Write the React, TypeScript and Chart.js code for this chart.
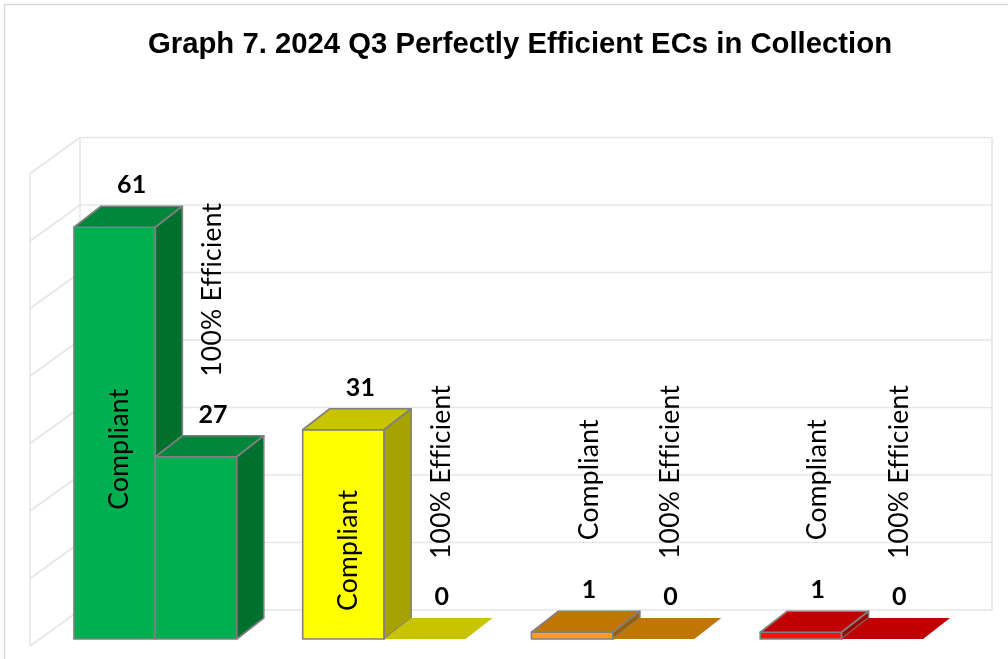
import { useEffect, useRef } from 'react';
import { Chart, registerables } from 'chart.js';

Chart.register(...registerables);

// ---------- data ----------
const chartTitle = 'Graph 7. 2024 Q3 Perfectly Efficient ECs in Collection';
const categories = ['Green', 'Yellow', 'Orange', 'Red'];
const seriesNames = ['Compliant', '100% Efficient'];
const compliantValues = [61, 31, 1, 1];
const efficientValues = [27, 0, 0, 0];
const yTickValues = [0, 10, 20, 30, 40, 50, 60, 70];

// ---------- style ----------
const frontColors = ['#00B050', '#FFFF00', '#FF9F1C', '#FF1010'];
const topColors = ['#00873C', '#C8C400', '#C07600', '#C00000'];
const sideColors = ['#00702F', '#A6A300', '#9A5E00', '#9A0000'];
const BAR_DX = 27;
const BAR_DY = -21;
const BACK_DX = 39;
const BACK_RIGHT_DX = 36;
const BACK_DY = -29;
const FRONT_DX = -11;
const FRONT_DY = 7;
const NAME_GAP = [50, 38];
const NAME_FONT = '26px Lato, "Open Sans", sans-serif';
const VALUE_FONT = 'bold 25px Lato, sans-serif';

function poly(ctx: CanvasRenderingContext2D, pts: number[][], fill: string, stroke: boolean) {
  ctx.beginPath();
  ctx.moveTo(pts[0][0], pts[0][1]);
  for (let i = 1; i < pts.length; i++) ctx.lineTo(pts[i][0], pts[i][1]);
  ctx.closePath();
  ctx.fillStyle = fill;
  ctx.fill();
  if (stroke) {
    ctx.strokeStyle = '#808080';
    ctx.lineWidth = 1.6;
    ctx.lineJoin = 'round';
    ctx.stroke();
  }
}

const threeDPlugin = {
  id: 'threeD',
  beforeDatasetsDraw(chart: any) {
    const ctx: CanvasRenderingContext2D = chart.ctx;
    const { left, right } = chart.chartArea;
    const ys = chart.scales.y;
    ctx.save();
    // outer frame
    ctx.strokeStyle = '#D9D9D9';
    ctx.lineWidth = 1.5;
    ctx.beginPath();
    ctx.moveTo(4.5, chart.height);
    ctx.lineTo(4.5, 4.5);
    ctx.lineTo(chart.width, 4.5);
    ctx.stroke();
    // title
    ctx.fillStyle = '#000';
    ctx.font = 'bold 29.3px "Liberation Sans", Arial, sans-serif';
    ctx.textAlign = 'center';
    ctx.textBaseline = 'alphabetic';
    ctx.fillText(chartTitle, 520, 53);
    // walls & grid
    const bl = left + BACK_DX;
    const br = right + BACK_RIGHT_DX;
    const fl = left + FRONT_DX;
    ctx.strokeStyle = '#E6E6E6';
    ctx.lineWidth = 1.6;
    const yTop = ys.getPixelForValue(yTickValues[yTickValues.length - 1]);
    const yBot = ys.getPixelForValue(yTickValues[0]);
    ctx.beginPath();
    for (const v of yTickValues) {
      const yy = ys.getPixelForValue(v);
      ctx.moveTo(bl, yy + BACK_DY);
      ctx.lineTo(br, yy + BACK_DY);
      ctx.moveTo(fl, yy + FRONT_DY);
      ctx.lineTo(bl, yy + BACK_DY);
    }
    ctx.moveTo(bl, yTop + BACK_DY);
    ctx.lineTo(bl, yBot + BACK_DY);
    ctx.moveTo(br, yTop + BACK_DY);
    ctx.lineTo(br, yBot + BACK_DY);
    ctx.moveTo(fl, yTop + FRONT_DY);
    ctx.lineTo(fl, yBot + FRONT_DY);
    ctx.stroke();
    ctx.restore();
  },
  afterDatasetsDraw(chart: any) {
    const ctx: CanvasRenderingContext2D = chart.ctx;
    ctx.save();
    const nDs = chart.data.datasets.length;
    // boxes
    for (let i = 0; i < categories.length; i++) {
      for (let d = 0; d < nDs; d++) {
        const el = chart.getDatasetMeta(d).data[i];
        const { x, y, base, width } = el.getProps(['x', 'y', 'base', 'width'], true);
        const x0 = x - width / 2;
        const x1 = x + width / 2;
        const value = chart.data.datasets[d].data[i];
        const topFace = [
          [x0, y],
          [x1, y],
          [x1 + BAR_DX, y + BAR_DY],
          [x0 + BAR_DX, y + BAR_DY],
        ];
        if (value <= 0) {
          poly(ctx, topFace, topColors[i], false);
          continue;
        }
        poly(ctx, [[x0, y], [x1, y], [x1, base], [x0, base]], frontColors[i], true);
        poly(ctx, topFace, topColors[i], true);
        poly(
          ctx,
          [
            [x1, y],
            [x1 + BAR_DX, y + BAR_DY],
            [x1 + BAR_DX, base + BAR_DY],
            [x1, base],
          ],
          sideColors[i],
          true
        );
      }
    }
    // labels (no ligatures)
    const anyCtx = ctx as any;
    anyCtx.letterSpacing = '0.2px';
    anyCtx.textRendering = 'optimizeSpeed';
    ctx.font = NAME_FONT;
    const stretch = 121 / ctx.measureText(seriesNames[0]).width;
    for (let i = 0; i < categories.length; i++) {
      for (let d = 0; d < nDs; d++) {
        const el = chart.getDatasetMeta(d).data[i];
        const { x, y, base } = el.getProps(['x', 'y', 'base'], true);
        const value = chart.data.datasets[d].data[i];
        const vx = x + 17;
        const vy = y - 42;
        ctx.fillStyle = '#000';
        ctx.font = VALUE_FONT;
        ctx.textAlign = 'center';
        ctx.textBaseline = 'middle';
        ctx.fillText(String(value), vx, vy);

        const name = chart.data.datasets[d].label;
        ctx.font = NAME_FONT;
        const len = ctx.measureText(name).width * stretch;
        ctx.save();
        if (d === 0 && base - y > len + 40) {
          ctx.translate(x + 5, (y + base) / 2 + 16);
          ctx.rotate(-Math.PI / 2);
          ctx.scale(stretch, 1);
          ctx.textAlign = 'center';
        } else {
          ctx.translate(vx, vy - NAME_GAP[d]);
          ctx.rotate(-Math.PI / 2);
          ctx.scale(stretch, 1);
          ctx.textAlign = 'left';
        }
        ctx.textBaseline = 'middle';
        ctx.fillText(name, 0, 0);
        ctx.restore();
      }
    }
    ctx.restore();
  },
};

export default function App() {
  const canvasRef = useRef<HTMLCanvasElement | null>(null);

  useEffect(() => {
    if (!canvasRef.current) return;
    const chart = new Chart(canvasRef.current, {
      type: 'bar',
      data: {
        labels: categories,
        datasets: [
          {
            label: seriesNames[0],
            data: compliantValues,
            backgroundColor: 'rgba(0,0,0,0)',
            borderWidth: 0,
          },
          {
            label: seriesNames[1],
            data: efficientValues,
            backgroundColor: 'rgba(0,0,0,0)',
            borderWidth: 0,
          },
        ],
      },
      options: {
        responsive: false,
        animation: false,
        devicePixelRatio: 1,
        layout: { padding: { left: 41, right: 52, top: 166.5, bottom: 20 } },
        datasets: { bar: { categoryPercentage: 0.712, barPercentage: 1 } },
        plugins: {
          legend: { display: false },
          title: { display: false },
          tooltip: { enabled: false },
        },
        scales: {
          x: { display: false, offset: true },
          y: { display: false, min: 0, max: 70, ticks: { stepSize: 10 } },
        },
      },
      plugins: [threeDPlugin],
    });
    return () => chart.destroy();
  }, []);

  return (
    <div style={{ position: 'fixed', left: 0, top: 0, width: 1008, height: 659, background: '#fff' }}>
      <canvas ref={canvasRef} width={1008} height={659} style={{ display: 'block' }} />
    </div>
  );
}
